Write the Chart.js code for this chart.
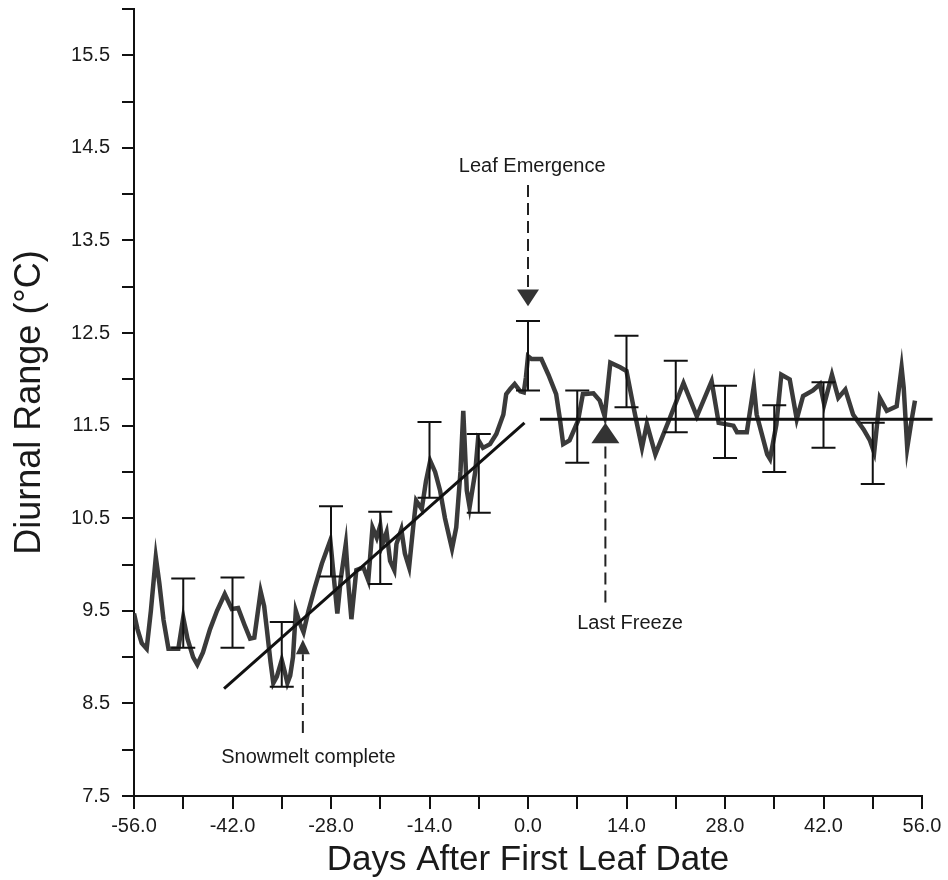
<!DOCTYPE html>
<html>
<head>
<meta charset="utf-8">
<script src="https://cdn.jsdelivr.net/npm/chart.js@4.4.1/dist/chart.umd.min.js"></script>
<style>
html, body { margin: 0; padding: 0; background: #fff; }
canvas { display: block; }
</style>
</head>
<body>
<canvas id="chart-diurnal" width="948" height="880"></canvas>
<script>
// Werte
var days = [-56.0, -55.5, -54.9, -54.2, -53.6, -52.9, -52.4, -51.8, -51.1, -49.7, -49.0, -48.4, -47.6, -47.0,
  -46.2, -45.2, -44.2, -43.1, -42.1, -41.2, -40.3, -39.5, -38.9, -38.0, -37.5, -37.1, -36.6, -36.2, -35.7,
  -35.0, -34.6, -34.2, -33.8, -33.4, -33.0, -32.4, -31.9, -31.2, -30.3, -29.3, -28.1, -27.7, -27.1, -26.6,
  -25.9, -25.5, -25.1, -24.4, -23.4, -22.7, -22.1, -21.5, -21.0, -20.7, -20.1, -19.6, -19.0, -18.7, -18.0,
  -17.5, -16.9, -16.3, -15.9, -15.1, -14.5, -13.9, -13.2, -12.5, -11.8, -11.2, -10.8, -10.2, -9.6, -9.2,
  -8.7, -8.3, -7.5, -7.1, -6.4, -5.4, -4.5, -3.5, -3.1, -2.5, -1.9, -1.1, -0.6, -0.3, 0.0, 0.5, 1.9, 2.9,
  4.0, 4.5, 5.0, 5.9, 7.1, 7.8, 9.3, 10.2, 10.9, 11.7, 13.1, 14.0, 15.0, 15.4, 16.2, 16.9, 18.1, 20.2, 22.1,
  24.0, 26.1, 27.1, 29.2, 29.7, 31.1, 32.1, 32.5, 34.0, 34.4, 35.3, 36.0, 37.2, 38.2, 39.1, 40.5, 41.5,
  42.1, 43.2, 44.1, 45.1, 46.2, 47.7, 48.6, 49.2, 50.0, 51.0, 52.4, 53.1, 53.4, 53.9, 54.5, 55.0];
var diurnal = [9.47, 9.30, 9.15, 9.09, 9.50, 10.08, 9.80, 9.40, 9.09, 9.09, 9.43, 9.20, 9.00, 8.92,
  9.05, 9.30, 9.50, 9.68, 9.52, 9.53, 9.35, 9.20, 9.21, 9.71, 9.55, 9.29, 8.95, 8.72, 8.79,
  8.97, 8.85, 8.72, 8.80, 9.00, 9.50, 9.36, 9.27, 9.50, 9.75, 10.01, 10.26, 9.94, 9.47, 9.85,
  10.22, 9.76, 9.41, 9.94, 9.97, 9.83, 10.40, 10.29, 10.42, 10.22, 10.35, 10.04, 9.94, 10.22, 10.38,
  10.12, 9.97, 10.42, 10.69, 10.60, 10.90, 11.12, 11.00, 10.80, 10.50, 10.30, 10.17, 10.40, 11.00, 11.66,
  10.80, 10.62, 11.00, 11.35, 11.26, 11.30, 11.41, 11.62, 11.84, 11.90, 11.95, 11.87, 11.86, 12.02, 12.25, 12.22, 12.22, 12.05,
  11.84, 11.59, 11.30, 11.34, 11.55, 11.84, 11.85, 11.77, 11.60, 12.18, 12.13, 12.09, 11.70, 11.55, 11.26, 11.52, 11.19, 11.59, 11.96,
  11.60, 11.98, 11.53, 11.50, 11.43, 11.43, 11.93, 11.62, 11.19, 11.14, 11.51, 12.05, 12.00, 11.57, 11.82, 11.88, 11.95,
  11.73, 12.05, 11.80, 11.89, 11.62, 11.46, 11.34, 11.21, 11.80, 11.66, 11.71, 12.13, 11.91, 11.26, 11.55, 11.77];

// Fehlerbalken
var errDays = [-49, -42, -35, -28, -21, -14, -7, 0, 7, 14, 21, 28, 35, 42, 49];
var errHigh = [9.85, 9.86, 9.38, 10.63, 10.57, 11.54, 11.41, 12.63, 11.88, 12.47, 12.20, 11.93, 11.72, 11.97, 11.53];
var errLow = [9.10, 9.10, 8.68, 9.87, 9.79, 10.72, 10.56, 11.88, 11.10, 11.70, 11.43, 11.15, 11.00, 11.26, 10.87];

// Regressionslinien
var fitDaysA = [-43.2, -0.5];
var fitA = [8.66, 11.53];
var fitDaysB = [1.7, 57.5];
var fitB = [11.57, 11.57];

// Achsenbeschriftung
var xTickValues = [-56, -42, -28, -14, 0, 14, 28, 42, 56];
var xTickText = ['-56.0', '-42.0', '-28.0', '-14.0', '0.0', '14.0', '28.0', '42.0', '56.0'];
var yTickValues = [7.5, 8.5, 9.5, 10.5, 11.5, 12.5, 13.5, 14.5, 15.5];
var yTickText = ['7.5', '8.5', '9.5', '10.5', '11.5', '12.5', '13.5', '14.5', '15.5'];

var noteText = ['Leaf Emergence', 'Last Freeze', 'Snowmelt complete'];
var noteDays = [0, 11, -32];

var FONT = "'Liberation Sans', Arial, sans-serif";

var toPoints = (xs, ys) => xs.map((x, i) => ({x: x, y: ys[i]}));

// Pfeile + Text
var notes = [
  {day: noteDays[0], from: 14.1, to: 12.97, tip: 12.79, half: 11, tx: 0.6, ty: 14.3},
  {day: noteDays[1], from: 9.59, to: 11.31, tip: 11.53, half: 14, tx: 14.5, ty: 9.36},
  {day: noteDays[2], from: 8.18, to: 9.03, tip: 9.19, half: 7, tx: -31.2, ty: 7.92}
];

var markerPlugin = {
  id: 'markers',
  afterDatasetsDraw: function(chart) {
    var x = chart.scales.x, y = chart.scales.y, ctx = chart.ctx;
    ctx.save();
    // error bars
    ctx.strokeStyle = '#111';
    ctx.lineWidth = 2;
    for (var i = 0; i < errDays.length; i++) {
      var px = x.getPixelForValue(errDays[i]);
      var top = y.getPixelForValue(errHigh[i]);
      var bot = y.getPixelForValue(errLow[i]);
      ctx.beginPath();
      ctx.moveTo(px, top); ctx.lineTo(px, bot);
      ctx.moveTo(px - 12, top); ctx.lineTo(px + 12, top);
      ctx.moveTo(px - 12, bot); ctx.lineTo(px + 12, bot);
      ctx.stroke();
    }
    // arrows
    for (var j = 0; j < notes.length; j++) {
      var n = notes[j];
      var ax = x.getPixelForValue(n.day);
      var y0 = y.getPixelForValue(n.from);
      var y1 = y.getPixelForValue(n.to);
      var y2 = y.getPixelForValue(n.tip);
      ctx.setLineDash([12, 6]);
      ctx.strokeStyle = '#222';
      ctx.lineWidth = 2;
      ctx.beginPath();
      ctx.moveTo(ax, y0); ctx.lineTo(ax, y1);
      ctx.stroke();
      ctx.setLineDash([]);
      ctx.fillStyle = '#333';
      ctx.beginPath();
      ctx.moveTo(ax - n.half, y1); ctx.lineTo(ax + n.half, y1); ctx.lineTo(ax, y2);
      ctx.closePath();
      ctx.fill();
      ctx.fillStyle = '#1a1a1a';
      ctx.font = '20px ' + FONT;
      ctx.textAlign = 'center';
      ctx.textBaseline = 'middle';
      ctx.fillText(noteText[j], x.getPixelForValue(n.tx), y.getPixelForValue(n.ty));
    }
    ctx.restore();
  }
};

var context = document.getElementById('chart-diurnal').getContext('2d');

var config = {
  type: 'line',
  data: {
    datasets: [{
      label: 'Fit 1',
      data: toPoints(fitDaysA, fitA),
      borderColor: '#111',
      borderWidth: 3,
      pointRadius: 0,
      order: 1
    }, {
      label: 'Fit 2',
      data: toPoints(fitDaysB, fitB),
      borderColor: '#111',
      borderWidth: 3,
      pointRadius: 0,
      clip: false,
      order: 1
    }, {
      label: 'Diurnal Range',
      data: toPoints(days, diurnal),
      borderColor: '#3a3a3a',
      borderWidth: 4.5,
      pointRadius: 0,
      tension: 0,
      order: 3
    }]
  },
  options: {
    responsive: false,
    animation: false,
    layout: { padding: { top: 9, right: 26, left: 0, bottom: 0 } },
    plugins: { legend: { display: false }, tooltip: { enabled: false } },
    scales: {
      x: {
        type: 'linear',
        min: -56, max: 56,
        afterFit: function(s) { s.height = 84; },
        afterBuildTicks: function(s) {
          var t = [];
          for (var v = -56; v <= 56; v += 7) t.push({value: v});
          s.ticks = t;
        },
        ticks: {
          autoSkip: false,
          maxRotation: 0,
          padding: 5,
          color: '#1a1a1a',
          font: { family: FONT, size: 20 },
          callback: function(v) {
            var k = xTickValues.indexOf(v);
            return k < 0 ? '' : xTickText[k];
          }
        },
        grid: { drawOnChartArea: false, drawTicks: true, tickLength: 13, color: '#111', lineWidth: 2 },
        border: { display: true, color: '#111', width: 2 },
        title: {
          display: true,
          text: 'Days After First Leaf Date',
          color: '#1a1a1a',
          font: { family: FONT, size: 35, lineHeight: 1 },
          padding: { top: 0, bottom: 2 }
        }
      },
      y: {
        type: 'linear',
        min: 7.5, max: 16,
        afterFit: function(s) {
          s.width = 134;
          s.paddingTop = 0;
          s.paddingBottom = 0;
        },
        afterBuildTicks: function(s) {
          var t = [];
          for (var k = 0; k <= 17; k++) t.push({value: 7.5 + k * 0.5});
          s.ticks = t;
        },
        ticks: {
          autoSkip: false,
          padding: 12,
          color: '#1a1a1a',
          font: { family: FONT, size: 20 },
          callback: function(v) {
            var k = yTickValues.indexOf(v);
            return k < 0 ? '' : yTickText[k];
          }
        },
        grid: { drawOnChartArea: false, drawTicks: true, tickLength: 12, color: '#111', lineWidth: 2 },
        border: { display: true, color: '#111', width: 2 },
        title: {
          display: true,
          text: 'Diurnal Range (\u00B0C)',
          color: '#1a1a1a',
          font: { family: FONT, size: 36, lineHeight: 1 },
          padding: { top: 12, bottom: 0 }
        }
      }
    }
  },
  plugins: [markerPlugin]
};

var chart1 = new Chart(context, config);
</script>
</body>
</html>
